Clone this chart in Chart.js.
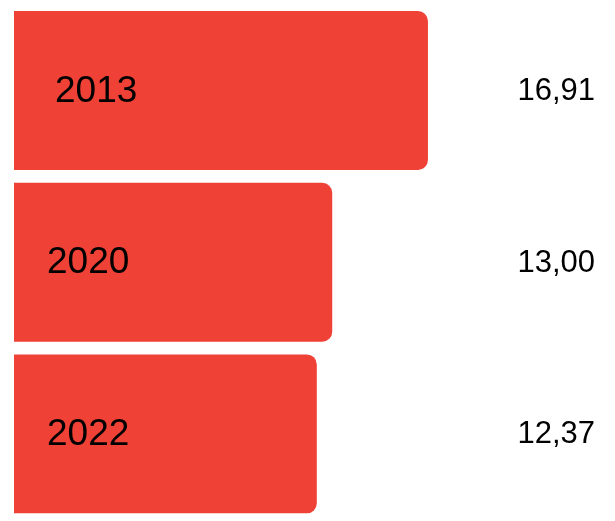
<!DOCTYPE html>
<html>
<head>
<meta charset="utf-8">
<script src="https://cdn.jsdelivr.net/npm/chart.js@4"></script>
<style>
  html, body { margin: 0; padding: 0; background: #fff; }
  #wrap { width: 615px; height: 521px; position: relative; }
</style>
</head>
<body>
<div id="wrap"><canvas id="chartCanvas"></canvas></div>
<script>
const years = ["2013", "2020", "2022"];
const values = [16.91, 13.00, 12.37];
const valueLabels = ["16,91", "13,00", "12,37"];

// year label inset from the bar start (the first one sits a bit further in)
const yearInset = [41, 33, 33];

const labelPlugin = {
  id: "barLabels",
  afterDatasetsDraw(chart) {
    const ctx = chart.ctx;
    const meta = chart.getDatasetMeta(0);
    ctx.save();
    ctx.fillStyle = "#000";
    ctx.textBaseline = "middle";
    meta.data.forEach((bar, i) => {
      ctx.font = "37px 'Liberation Sans', Arial, sans-serif";
      ctx.textAlign = "left";
      ctx.fillText(years[i], bar.base + yearInset[i], bar.y + 1);
      ctx.font = "31px 'Liberation Sans', Arial, sans-serif";
      ctx.textAlign = "right";
      ctx.fillText(valueLabels[i], 595, bar.y + 1);
    });
    ctx.restore();
  }
};

const ctx = document.getElementById("chartCanvas").getContext("2d");
new Chart(ctx, {
  type: "bar",
  data: {
    labels: years,
    datasets: [{
      data: values,
      backgroundColor: "#EF4136",
      borderRadius: 10,
      borderSkipped: "start",
      barPercentage: 0.926,
      categoryPercentage: 1
    }]
  },
  options: {
    indexAxis: "y",
    responsive: true,
    maintainAspectRatio: false,
    animation: false,
    layout: { padding: { left: 14, right: 13.5, top: 4.7, bottom: 1.3 } },
    scales: {
      x: { display: false, min: 0, max: 24 },
      y: { display: false }
    },
    plugins: {
      legend: { display: false },
      tooltip: { enabled: false }
    }
  },
  plugins: [labelPlugin]
});
</script>
</body>
</html>
